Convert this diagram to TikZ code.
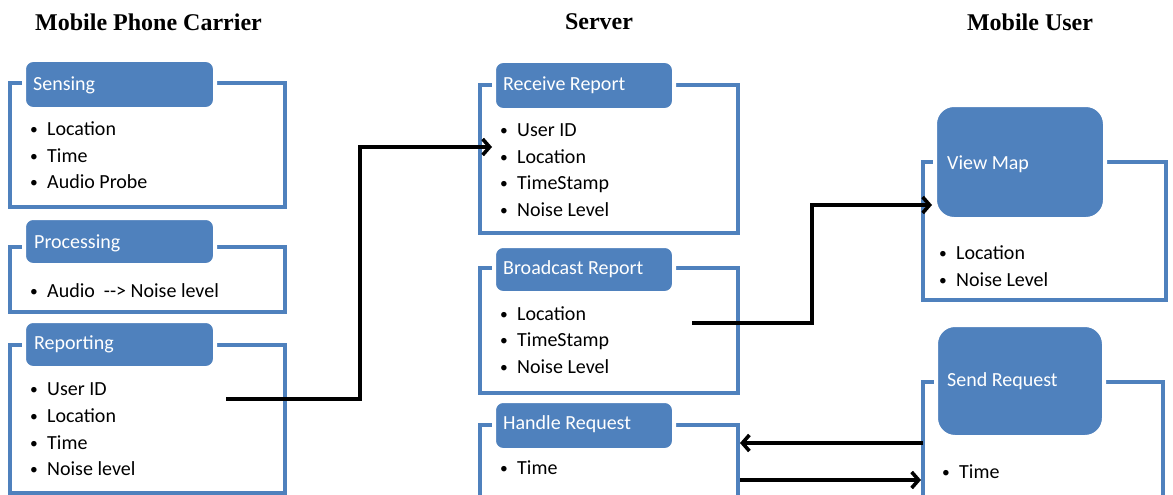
\documentclass[tikz,border=0pt]{standalone}
\usepackage{fontspec}
\setmainfont{Carlito}
\newfontfamily\titlefont{Liberation Serif}
\usetikzlibrary{arrows.meta,fit,calc}
\definecolor{ob}{HTML}{4F81BD}
\begin{document}
\begin{tikzpicture}[x=1pt,y=-1pt,
  frame/.style={draw=ob, line width=3.2pt, inner sep=0pt},
  hdr/.style={fill=ob, draw=white, line width=4pt, rounded corners=9pt, inner sep=2pt},
  bighdr/.style={hdr, rounded corners=19pt},
  htext/.style={text=white, font=\fontsize{20}{24}\selectfont, anchor=west, inner sep=0pt, text height=15pt, text depth=3pt},
  item/.style={font=\fontsize{20}{24}\selectfont, anchor=west, inner sep=0pt, text height=15pt, text depth=3pt},
  ttl/.style={font=\titlefont\bfseries\fontsize{24}{28}\selectfont, inner sep=0pt},
  conn/.style={line width=3.6pt, -{Straight Barb[length=7pt,width=16pt]}}]
\fill[white] (0,0) rectangle (1173,495);
\useasboundingbox (0,0) rectangle (1173,495);
\newcommand\bul[1]{\makebox[18pt][l]{\hspace{1pt}\raisebox{0.8pt}{\fontsize{15.5}{15.5}\selectfont •}}#1}
% titles
\node[ttl] (t1) at (148.5,22) {Mobile Phone Carrier};
\node[ttl] (t2) at (599,22) {Server};
\node[ttl] (t3) at (1030,22) {Mobile User};
% frames
\node[frame, fit={(10,83)(285,207)}] (fS) {};
\node[frame, fit={(10,247)(285,312)}] (fP) {};
\node[frame, fit={(10,345)(285,493)}] (fR) {};
\node[frame, fit={(480,85)(738,233)}] (fRR) {};
\node[frame, fit={(480,268)(738,393)}] (fBR) {};
\node[frame, fit={(480,425)(738,505)}] (fHR) {};
\node[frame, fit={(923,162)(1166,300)}] (fVM) {};
\node[frame, fit={(923,382)(1163,505)}] (fSR) {};
% headers
\node[hdr, fit={(26,62)(213,107)}] (hS) {};
\node[hdr, fit={(26,220)(213,263)}] (hP) {};
\node[hdr, fit={(26,323)(213,366)}] (hR) {};
\node[hdr, fit={(496,63)(672,108)}] (hRR) {};
\node[hdr, fit={(496,248)(672,291)}] (hBR) {};
\node[hdr, fit={(496,403)(672,448)}] (hHR) {};
\node[bighdr, fit={(937,107)(1103,217)}] (hVM) {};
\node[bighdr, fit={(938,327)(1102,435)}] (hSR) {};
% header texts
\node[htext] (xS) at (33,84) {Sensing};
\node[htext] (xP) at (34,242) {Processing};
\node[htext] (xR) at (34,343) {Reporting};
\node[htext] (xRR) at (503,85) {Receive Report};
\node[htext] (xBR) at (503,268) {Broadcast Report};
\node[htext] (xHR) at (503,423) {Handle Request};
\node[htext] (xVM) at (947,163) {View Map};
\node[htext] (xSR) at (947,380) {Send Request};
% items
\node[item] (s1) at (29,129) {\bul{Location}};
\node[item] (s2) at (29,156) {\bul{Time}};
\node[item] (s3) at (29,182) {\bul{Audio Probe}};
\node[item] (p1) at (29,291) {\bul{Audio\ \ -{}-{}>~Noise level}};
\node[item] (r1) at (29,389) {\bul{User ID}};
\node[item] (r2) at (29,416) {\bul{Location}};
\node[item] (r3) at (29,443) {\bul{Time}};
\node[item] (r4) at (29,469) {\bul{Noise level}};
\node[item] (rr1) at (499,130) {\bul{User ID}};
\node[item] (rr2) at (499,157) {\bul{Location}};
\node[item] (rr3) at (499,183) {\bul{TimeStamp}};
\node[item] (rr4) at (499,210) {\bul{Noise Level}};
\node[item] (b1) at (499,314) {\bul{Location}};
\node[item] (b2) at (499,340) {\bul{TimeStamp}};
\node[item] (b3) at (499,367) {\bul{Noise Level}};
\node[item] (h1) at (499,468) {\bul{Time}};
\node[item] (v1) at (938,253) {\bul{Location}};
\node[item] (v2) at (938,280) {\bul{Noise Level}};
\node[item] (q1) at (941,472) {\bul{Time}};
% connector points
\coordinate (a1s) at (226,399);
\coordinate (a1m) at (360,147);
\coordinate (a1e) at (492,147);
\coordinate (a2s) at (692,323);
\coordinate (a2m) at (812,205);
\coordinate (a2e) at (932,205);
\coordinate (a3s) at (923,443);
\coordinate (a3e) at (740,443);
\coordinate (a4s) at (740,480);
\coordinate (a4e) at (921,480);
\draw[conn] (a1s) -| (a1m) -- (a1e);
\draw[conn] (a2s) -| (a2m) -- (a2e);
\draw[conn] (a3s) -- (a3e);
\draw[conn] (a4s) -- (a4e);
\end{tikzpicture}
\end{document}
